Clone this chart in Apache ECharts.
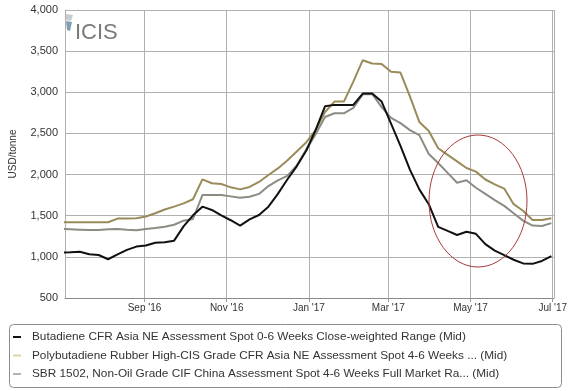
<!DOCTYPE html>
<html>
<head>
<meta charset="utf-8">
<script src="https://cdn.jsdelivr.net/npm/echarts@6/dist/echarts.min.js"></script>
<style>
  html, body { margin: 0; padding: 0; background: #fff; }
  #chart { width: 570px; height: 391px; }
</style>
</head>
<body>
<div id="chart"></div>
<script>
// Weekly (Friday) assessment dates
const dates = [
  '2016-07-01','2016-07-08','2016-07-15','2016-07-22','2016-07-29',
  '2016-08-05','2016-08-12','2016-08-19','2016-08-26',
  '2016-09-02','2016-09-09','2016-09-16','2016-09-23','2016-09-30',
  '2016-10-07','2016-10-14','2016-10-21','2016-10-28',
  '2016-11-04','2016-11-11','2016-11-18','2016-11-25',
  '2016-12-02','2016-12-09','2016-12-16','2016-12-23','2016-12-30',
  '2017-01-06','2017-01-13','2017-01-20','2017-01-27',
  '2017-02-03','2017-02-10','2017-02-17','2017-02-24',
  '2017-03-03','2017-03-10','2017-03-17','2017-03-24','2017-03-31',
  '2017-04-07','2017-04-14','2017-04-21','2017-04-28',
  '2017-05-05','2017-05-12','2017-05-19','2017-05-26',
  '2017-06-02','2017-06-09','2017-06-16','2017-06-23','2017-06-30'
];

const butadiene = [
  1050, 1055, 1063, 1031, 1023,
  971, 1030, 1085, 1125,
  1138, 1172, 1178, 1197, 1370,
  1505, 1610, 1570, 1505,
  1445, 1380, 1455, 1509,
  1610, 1765, 1940, 2100, 2290,
  2540, 2830, 2847, 2847,
  2847, 2985, 2985, 2887,
  2620, 2350, 2060, 1820, 1640,
  1365, 1315, 1266, 1305,
  1280, 1155, 1075, 1020,
  965, 920, 915, 950, 1010
];

const polybutadiene = [
  1420, 1420, 1420, 1420, 1420,
  1420, 1465, 1467, 1469,
  1490, 1530, 1575, 1610, 1650,
  1700, 1942, 1894, 1885,
  1845, 1820, 1850, 1910,
  1995, 2075, 2170, 2280, 2390,
  2540, 2760, 2887, 2887,
  3130, 3390, 3350, 3344,
  3250, 3240, 2950, 2640, 2530,
  2320, 2240, 2160, 2080,
  2036, 1940, 1880, 1830,
  1640, 1560, 1448, 1448, 1469
];

const sbr = [
  1339, 1335, 1330, 1325, 1325,
  1335, 1339, 1330, 1322,
  1339, 1350, 1365, 1390, 1440,
  1460, 1751, 1751, 1751,
  1735, 1719, 1730, 1765,
  1860, 1930, 1985, 2110, 2300,
  2490, 2700, 2745, 2745,
  2810, 2975, 2980, 2820,
  2690, 2625, 2540, 2480, 2250,
  2140, 2020, 1900, 1930,
  1840, 1765, 1690, 1620,
  1530, 1440, 1380, 1375, 1410
];

const seriesNames = [
  'Butadiene CFR Asia NE Assessment Spot 0-6 Weeks Close-weighted Range (Mid)',
  'Polybutadiene Rubber High-CIS Grade CFR Asia NE Assessment Spot 4-6 Weeks ... (Mid)',
  'SBR 1502, Non-Oil Grade CIF China Assessment Spot 4-6 Weeks Full Market Ra... (Mid)'
];

const monthNames = ['Jan','Feb','Mar','Apr','May','Jun','Jul','Aug','Sep','Oct','Nov','Dec'];

const FONT = '"Liberation Sans", Arial, sans-serif';
const lineColors = ['#111111', '#9a8b5a', '#8c8c84'];
const legendColors = ['#111111', '#ddd7a2', '#b4b4b0'];

function pairs(vals) { return dates.map((d, i) => [d, vals[i]]); }

const chart = echarts.init(document.getElementById('chart'), null, { renderer: 'canvas' });

chart.setOption({
  backgroundColor: '#ffffff',
  animation: false,
  textStyle: { fontFamily: FONT },
  grid: { left: 62, right: 7, top: 10, bottom: 93, containLabel: false },
  xAxis: {
    type: 'time',
    min: '2016-07-04',
    max: '2017-07-02',
    splitNumber: 5,
    axisLine: { show: true, lineStyle: { color: '#8a8a8a', width: 1 } },
    axisTick: { show: true, length: 4, lineStyle: { color: '#9a9a9a' } },
    splitLine: { show: true, lineStyle: { color: '#b0b0b0', width: 1 } },
    axisLabel: {
      color: '#333', fontSize: 10, fontFamily: FONT, margin: 5,
      hideOverlap: false,
      alignMaxLabel: 'center',
      alignMinLabel: 'center',
      formatter: function (val) {
        const d = new Date(val);
        return monthNames[d.getMonth()] + " '" + String(d.getFullYear()).slice(2);
      }
    }
  },
  yAxis: {
    type: 'value',
    min: 500, max: 4000, interval: 500,
    name: 'USD/tonne',
    nameLocation: 'middle',
    nameRotate: 90,
    nameGap: 47,
    nameTextStyle: { color: '#333', fontSize: 10, fontFamily: FONT },
    axisLine: { show: true, lineStyle: { color: '#b0b0b0' } },
    axisTick: { show: false },
    splitLine: { show: true, lineStyle: { color: '#b0b0b0', width: 1 } },
    axisLabel: {
      color: '#333', fontSize: 11, fontFamily: FONT, margin: 7,
      formatter: v => v.toLocaleString('en-US')
    }
  },
  legend: {
    orient: 'vertical',
    left: 13, top: 330,
    itemWidth: 8, itemHeight: 2,
    itemGap: 4.5,
    icon: 'rect',
    padding: 0,
    selectedMode: false,
    textStyle: { color: '#333', fontSize: 11.8, fontFamily: FONT, lineHeight: 14, padding: [0, 0, 0, 6] },
    data: seriesNames.map((n, i) => ({ name: n, itemStyle: { color: legendColors[i] } }))
  },
  series: [
    { name: seriesNames[0], type: 'line', data: pairs(butadiene), showSymbol: false, symbol: 'none',
      lineStyle: { color: lineColors[0], width: 2 }, itemStyle: { color: lineColors[0] }, z: 5 },
    { name: seriesNames[1], type: 'line', data: pairs(polybutadiene), showSymbol: false, symbol: 'none',
      lineStyle: { color: lineColors[1], width: 2 }, itemStyle: { color: lineColors[1] }, z: 4 },
    { name: seriesNames[2], type: 'line', data: pairs(sbr), showSymbol: false, symbol: 'none',
      lineStyle: { color: lineColors[2], width: 2 }, itemStyle: { color: lineColors[2] }, z: 3 }
  ],
  graphic: [
    { type: 'rect', shape: { x: 9.5, y: 324.5, width: 552, height: 63, r: 4 },
      style: { fill: 'none', stroke: '#8c8c8c', lineWidth: 1 }, silent: true },
    { type: 'text', left: 75, top: 22,
      style: { text: 'ICIS', fill: '#7a7a7a', font: '22px ' + FONT } },
    { type: 'polygon', shape: { points: [[66, 14], [73, 15], [71, 21], [66, 20]] },
      style: { fill: '#c8ccd0' } },
    { type: 'polygon', shape: { points: [[66, 21], [72, 22], [70, 31], [67, 30]] },
      style: { fill: '#7d9fb0' } },
    { type: 'ellipse', shape: { cx: 478, cy: 201, rx: 49, ry: 66 },
      style: { fill: 'none', stroke: '#a83a3a', lineWidth: 1 }, z: 100 }
  ]
});
</script>
</body>
</html>
